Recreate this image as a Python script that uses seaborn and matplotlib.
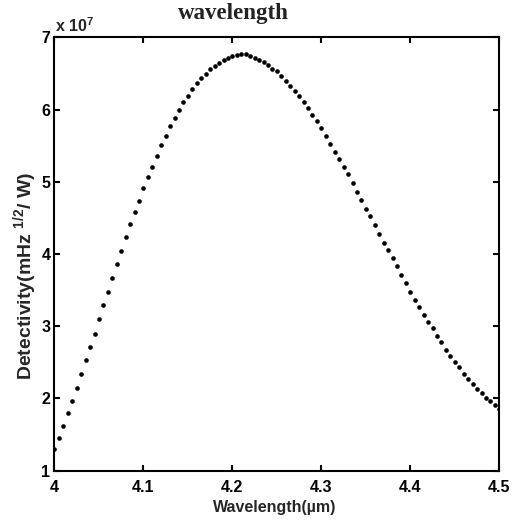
import numpy as np
import pandas as pd
import matplotlib
matplotlib.use("Agg")
import matplotlib.pyplot as plt
import seaborn as sns
from matplotlib.ticker import FuncFormatter

# wavelength samples (um), one per dot
wavelength = [
    4.000, 4.005, 4.010, 4.015, 4.020, 4.025, 4.030, 4.035, 4.040, 4.045,
    4.050, 4.055, 4.060, 4.065, 4.070, 4.075, 4.080, 4.085, 4.090, 4.095,
    4.100, 4.105, 4.110, 4.115, 4.120, 4.125, 4.130, 4.135, 4.140, 4.145,
    4.150, 4.155, 4.160, 4.165, 4.170, 4.175, 4.180, 4.185, 4.190, 4.195,
    4.200, 4.205, 4.210, 4.215, 4.220, 4.225, 4.230, 4.235, 4.240, 4.245,
    4.250, 4.255, 4.260, 4.265, 4.270, 4.275, 4.280, 4.285, 4.290, 4.295,
    4.300, 4.305, 4.310, 4.315, 4.320, 4.325, 4.330, 4.335, 4.340, 4.345,
    4.350, 4.355, 4.360, 4.365, 4.370, 4.375, 4.380, 4.385, 4.390, 4.395,
    4.400, 4.405, 4.410, 4.415, 4.420, 4.425, 4.430, 4.435, 4.440, 4.445,
    4.450, 4.455, 4.460, 4.465, 4.470, 4.475, 4.480, 4.485, 4.490, 4.495,
    4.500,
]

# detectivity in units of 1e7
detectivity_e7 = [
    1.30, 1.45, 1.62, 1.80, 1.97, 2.15, 2.34, 2.53, 2.72, 2.90,
    3.10, 3.29, 3.48, 3.67, 3.86, 4.04, 4.23, 4.41, 4.58, 4.74,
    4.91, 5.07, 5.21, 5.36, 5.51, 5.63, 5.77, 5.89, 6.00, 6.10,
    6.19, 6.29, 6.37, 6.44, 6.50, 6.56, 6.61, 6.65, 6.69, 6.72,
    6.74, 6.76, 6.77, 6.77, 6.75, 6.72, 6.69, 6.66, 6.62, 6.57,
    6.53, 6.47, 6.40, 6.33, 6.26, 6.19, 6.10, 6.02, 5.93, 5.84,
    5.74, 5.63, 5.53, 5.42, 5.32, 5.21, 5.11, 4.98, 4.86, 4.75,
    4.63, 4.53, 4.40, 4.28, 4.16, 4.06, 3.94, 3.83, 3.71, 3.60,
    3.48, 3.37, 3.27, 3.16, 3.06, 2.97, 2.87, 2.78, 2.67, 2.59,
    2.51, 2.43, 2.34, 2.27, 2.20, 2.13, 2.07, 2.01, 1.96, 1.91,
    1.86,
]

x_ticks = [4.0, 4.1, 4.2, 4.3, 4.4, 4.5]
y_ticks_e7 = [1, 2, 3, 4, 5, 6, 7]

df = pd.DataFrame({"Wavelength": wavelength,
                   "Detectivity": np.array(detectivity_e7) * 1e7})

sns.set_style("ticks")
plt.rcParams["font.family"] = ["Liberation Sans", "DejaVu Sans"]
plt.rcParams["font.weight"] = "bold"
plt.rcParams["mathtext.fontset"] = "custom"
plt.rcParams["mathtext.rm"] = "Liberation Sans:bold"
plt.rcParams["mathtext.bf"] = "Liberation Sans:bold"
plt.rcParams["mathtext.default"] = "bf"

fig = plt.figure(figsize=(5.31, 5.22), dpi=100)
ax = fig.add_axes([0.1026, 0.0983, 0.8377, 0.8299])

sns.scatterplot(data=df, x="Wavelength", y="Detectivity", ax=ax,
                color="black", s=11, linewidth=0, legend=False)

ax.set_xlim(4.0, 4.5)
ax.set_ylim(1e7, 7e7)
ax.set_xticks(x_ticks)
ax.set_yticks([v * 1e7 for v in y_ticks_e7])
ax.xaxis.set_major_formatter(FuncFormatter(lambda v, p: f"{v:g}"))
ax.yaxis.set_major_formatter(FuncFormatter(lambda v, p: f"{v / 1e7:g}"))

for sp in ax.spines.values():
    sp.set_visible(True)
    sp.set_linewidth(1.5)
    sp.set_color("black")

ax.tick_params(axis="both", which="major", direction="in", length=4.3,
               width=1.5, top=True, right=True, labelsize=11.5, colors="black")
ax.tick_params(axis="x", pad=6.5)
ax.tick_params(axis="y", pad=3)
for lab in ax.get_xticklabels() + ax.get_yticklabels():
    lab.set_fontweight("bold")

ax.set_xlabel("")
ax.set_ylabel("")

fig.text(0.518, 0.027, "Wavelength(\u00b5m)", ha="center", va="center",
         fontsize=11.5, fontweight="bold")
fig.text(0.047, 0.471, r"Detectivity(mHz $^{1/2}$/ W)", ha="center",
         va="center", rotation=90, fontsize=14, fontweight="bold")
fig.text(0.104, 0.939, r"x 10$^{7}$", ha="left", va="baseline",
         fontsize=11.5, fontweight="bold")
fig.text(0.44, 0.9636, "wavelength", ha="center", va="baseline",
         fontsize=16.5, fontweight="bold",
         family=["Liberation Serif", "DejaVu Serif"], color="#222222")

fig.savefig("out.png", dpi=100, facecolor="white")
